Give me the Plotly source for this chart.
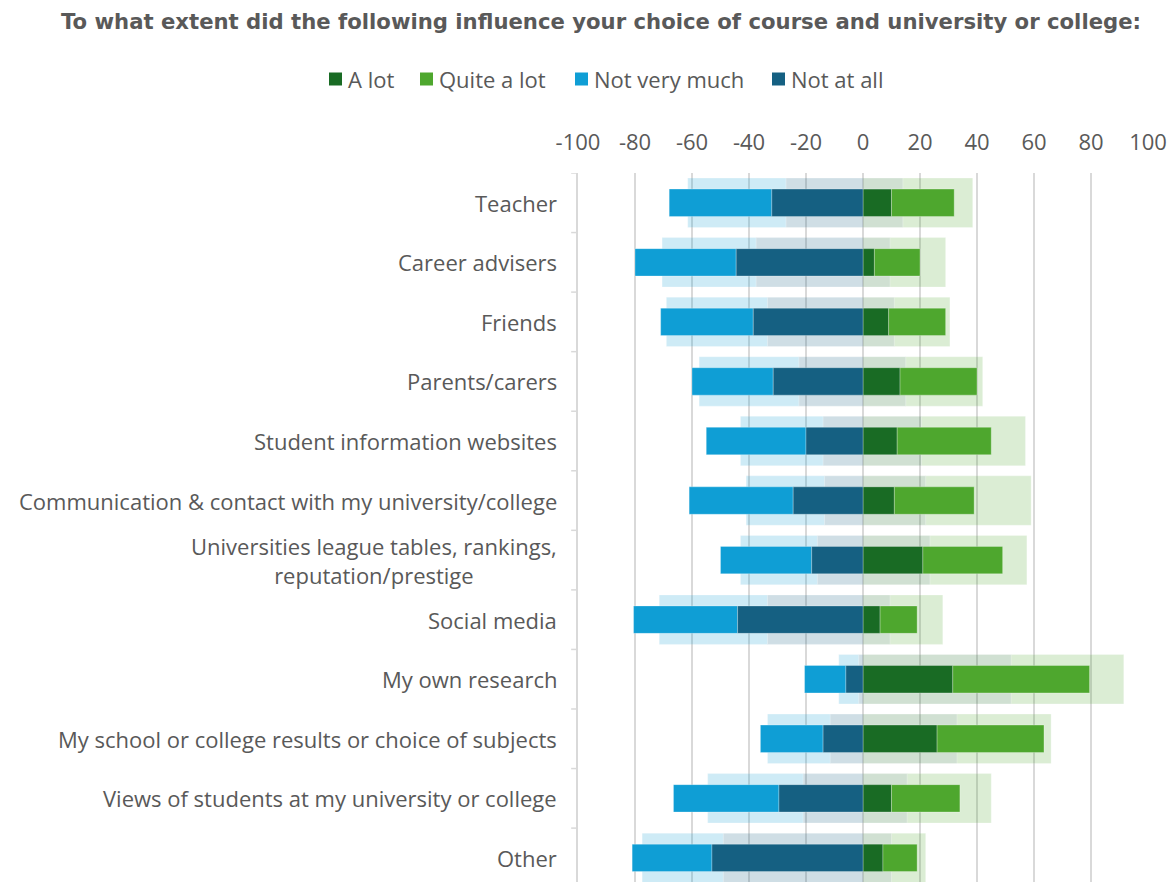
import plotly.graph_objects as go

# Influence factors, top to bottom
categories = [
    "Teacher",
    "Career advisers",
    "Friends",
    "Parents/carers",
    "Student information websites",
    "Communication & contact with my university/college",
    "Universities league tables, rankings,<br>reputation/prestige",
    "Social media",
    "My own research",
    "My school or college results or choice of subjects",
    "Views of students at my university or college",
    "Other",
]

# Current responses (%)
a_lot         = [10, 4, 9, 13, 12, 11, 21, 6, 31.5, 26, 10, 7]
quite_a_lot   = [22, 16, 20, 27, 33, 28, 28, 13, 48, 37.5, 24, 12]
not_very_much = [36, 35.5, 32.5, 28.5, 35, 36.5, 32, 36.5, 14.5, 22, 37, 28]
not_at_all    = [32, 44.5, 38.5, 31.5, 20, 24.5, 18, 44, 6, 14, 29.5, 53]

# Comparison responses (%), drawn as the wide pale bars behind
cmp_a_lot         = [14, 9.5, 11, 15, 20.5, 22, 23.5, 9.5, 52, 33, 15.5, 10]
cmp_quite_a_lot   = [24.5, 19.5, 19.5, 27, 36.5, 37, 34, 18.5, 39.5, 33, 29.5, 12]
cmp_not_very_much = [34.5, 33, 35.5, 35, 29, 27.5, 27, 38, 7, 22, 33.5, 28.5]
cmp_not_at_all    = [27, 37.5, 33.5, 22.5, 14, 13.5, 16, 33.5, 1.5, 11.5, 21, 49]

x_ticks = [-100, -80, -60, -40, -20, 0, 20, 40, 60, 80, 100]

series_names = ["A lot", "Quite a lot", "Not very much", "Not at all"]

C_ALOT = "#196B24"
C_QUITE = "#4EA72E"
C_NVM = "#0F9ED5"
C_NAA = "#156082"
series_colors = [C_ALOT, C_QUITE, C_NVM, C_NAA]

FONT = "Open Sans, Liberation Sans, Arial, sans-serif"
TITLE_FONT = "DejaVu Sans, Open Sans, sans-serif"
TXT = "#595959"

W, H = 1172, 882
M_L, M_R, M_T, M_B = 578, 24, 173, 0
PW, PH = W - M_L - M_R, H - M_T - M_B

ids = list(range(len(categories)))


def px_x(px):
    return (px - M_L) / PW


def px_y(py):
    return (H - M_B - py) / PH


def layer(alot, quite, nvm, naa, width, opacity):
    """Four stacked segments diverging from zero."""
    neg_naa = [-v for v in naa]
    neg_nvm = [-v for v in nvm]
    vals = [alot, quite, neg_nvm, neg_naa]
    bases = [[0] * len(alot), alot, neg_naa, [0] * len(naa)]
    traces = []
    for name, v, b, color in zip(series_names, vals, bases, series_colors):
        traces.append(go.Bar(
            name=name,
            y=ids,
            x=v,
            base=b,
            orientation="h",
            width=width,
            opacity=opacity,
            marker=dict(color=color,
                        line=dict(color="rgba(255,255,255,0.35)", width=0.8)),
            showlegend=False,
        ))
    return traces


fig = go.Figure()
for t in layer(cmp_a_lot, cmp_quite_a_lot, cmp_not_very_much, cmp_not_at_all,
               0.83, 0.2):
    fig.add_trace(t)
for t in layer(a_lot, quite_a_lot, not_very_much, not_at_all, 0.46, 1.0):
    fig.add_trace(t)

# Category labels (centred lines, right-aligned block)
for i, label in enumerate(categories):
    fig.add_annotation(
        x=0, xref="paper", y=i, yref="y",
        text=label, showarrow=False,
        xanchor="right", yanchor="middle", align="center",
        xshift=-19,
        font=dict(family=FONT, size=22, color=TXT),
    )

# Legend row: coloured square followed by its label
legend_square_left = [329, 420, 575, 772]
legend_y = 79
for name, color, left in zip(series_names, series_colors, legend_square_left):
    fig.add_shape(type="rect", xref="paper", yref="paper",
                  x0=px_x(left), x1=px_x(left + 13),
                  y0=px_y(legend_y + 6.5), y1=px_y(legend_y - 6.5),
                  fillcolor=color, line=dict(width=0))
    fig.add_annotation(
        x=px_x(left + 17), xref="paper", y=px_y(legend_y), yref="paper",
        text=name, showarrow=False, xanchor="left", yanchor="middle",
        font=dict(family=FONT, size=22, color=TXT),
    )

fig.update_layout(
    width=W, height=H,
    margin=dict(l=M_L, r=M_R, t=M_T, b=M_B),
    paper_bgcolor="white", plot_bgcolor="white",
    barmode="overlay",
    showlegend=False,
    font=dict(family=FONT, color=TXT),
    title=dict(
        text="<b>To what extent did the following influence your choice of course and university or college:</b>",
        x=601 / W, xref="container", xanchor="center",
        y=1 - 22 / H, yref="container", yanchor="middle",
        font=dict(family=TITLE_FONT, size=21.2, color=TXT),
    ),
    xaxis=dict(
        side="top", range=[-100, 100],
        tickvals=x_ticks, ticktext=[str(v) for v in x_ticks],
        showgrid=True, gridcolor="#D9D9D9", gridwidth=1.5,
        zeroline=False, showline=False, ticks="",
        tickfont=dict(family=FONT, size=22, color=TXT),
        ticklabelstandoff=18,
    ),
    yaxis=dict(
        range=[11.405, -0.5],
        tickvals=ids, showticklabels=False,
        showgrid=False, zeroline=False,
        showline=True, linecolor="#D9D9D9", linewidth=1.5,
        ticks="",
    ),
)

# Excel-style tick marks on category boundaries
boundaries = [i - 0.5 for i in range(len(categories) + 1)]
for b in boundaries:
    fig.add_shape(type="line", xref="paper", yref="y",
                  x0=-0.012, x1=0, y0=b, y1=b,
                  line=dict(color="#D9D9D9", width=1.5))

fig.write_html("out.html")
